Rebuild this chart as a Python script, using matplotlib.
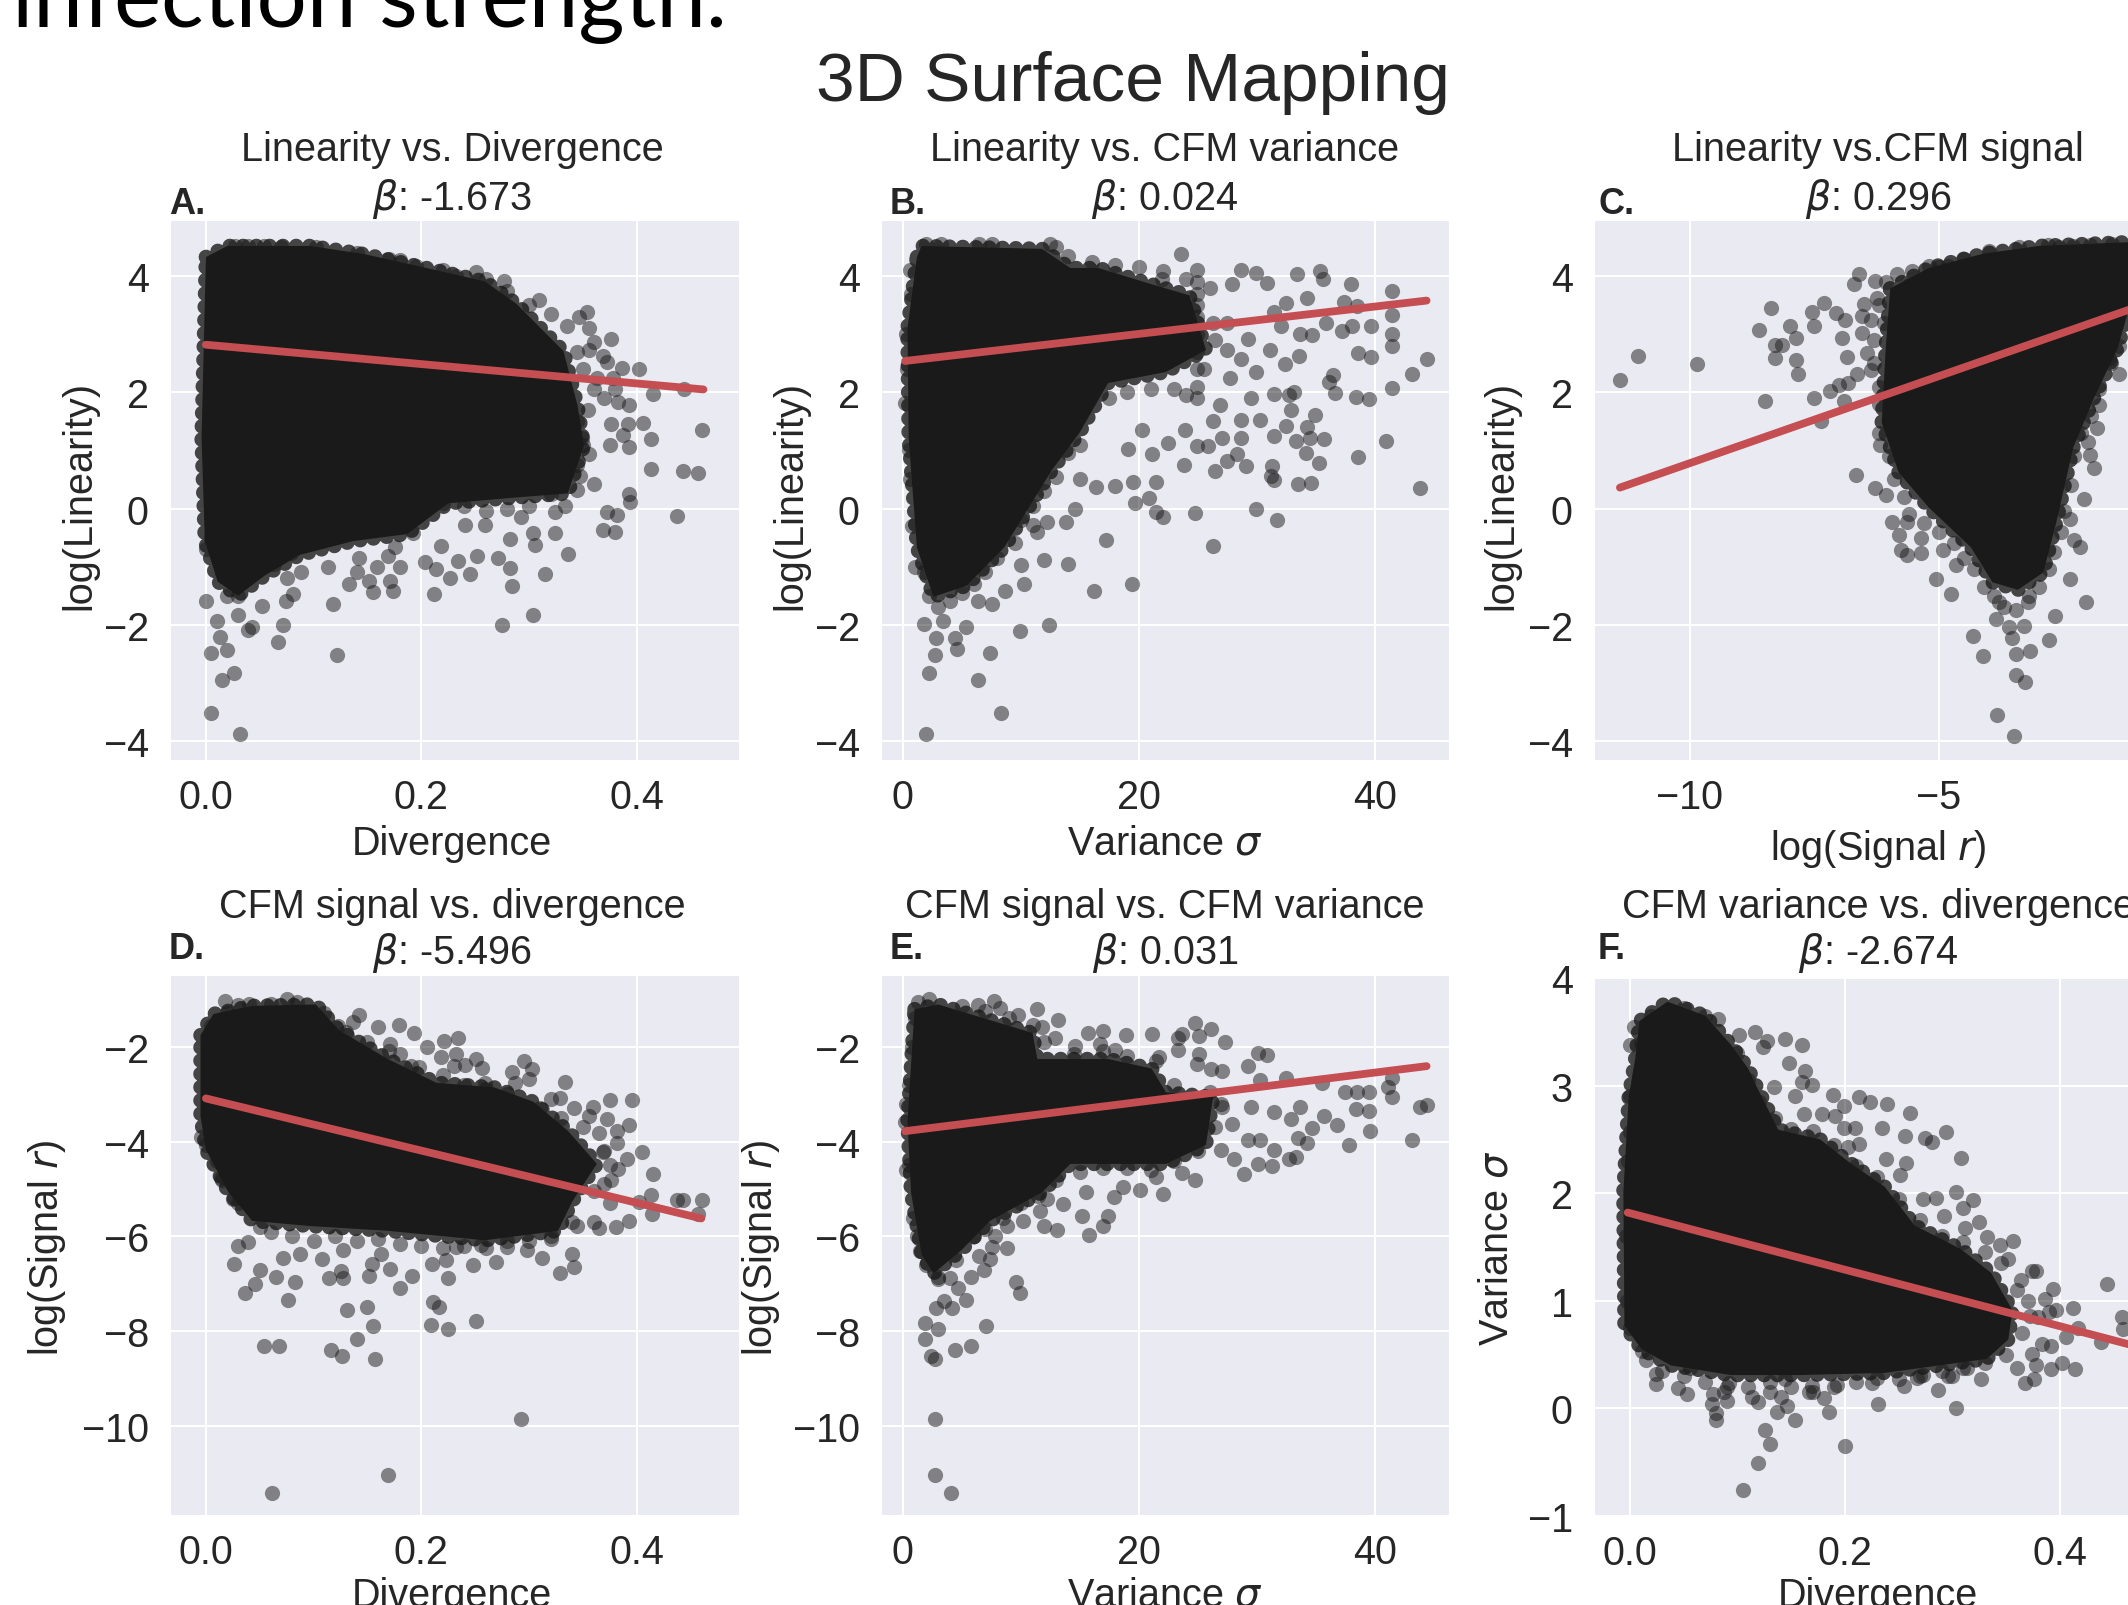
import matplotlib
matplotlib.use('Agg')
import matplotlib.pyplot as plt

plt.rcParams['font.family'] = ['Liberation Sans', 'DejaVu Sans']
plt.rcParams['mathtext.fontset'] = 'custom'
plt.rcParams['mathtext.rm'] = 'Liberation Sans'
plt.rcParams['mathtext.it'] = 'DejaVu Sans:italic'

W, H = 2128, 1606

# A. linearity vs divergence
a_x = [0, .005, .015, .026, .005, .032, .013, .02, .01, .03, .039, .043, .067, .072, .074, .081, .118, .122, .052, .075,
       .088, .063, .079, .113, .133, .14, .142, .151, .155, .159, .171, .174, .169, .18, .176, .203, .212, .214, .227, .234,
       .218, .245, .252, .271, .282, .284, .275, .304, .315, .336, .324, .306, .282, .333, .324, .304, .293, .259, .241, .192,
       .372, .369, .38, .382, .437, .394, .393, .443, .457, .413, .461, .413, .393, .375, .406, .393, .415, .444, .402, .386,
       .376, .372, .354, .346, .356, .36, .356, .369, .378, .363, .383, .392, .376, .387, .36, .345, .349, .356, .347, .309,
       .277, .251, .232, .195, .18, .102, .054, .039, .027]
a_y = [-1.59, -2.49, -2.96, -2.83, -3.52, -3.89, -2.21, -2.43, -1.94, -1.83, -2.10, -2.04, -2.29, -2.01, -1.59, -1.47, -1.64, -2.53, -1.67, -1.19,
       -1.09, -.95, -.76, -1.0, -1.30, -1.09, -.86, -1.24, -1.43, -1.0, -1.24, -1.42, -.81, -1.0, -.67, -.92, -1.47, -1.05, -1.19, -.91,
       -.64, -1.12, -.81, -.86, -1.02, -1.33, -2.01, -1.84, -1.12, -.78, -.43, -.62, -.53, .04, -.06, -.43, -.15, -.29, -.29, -.43,
       -.06, -.37, -.41, -.12, -.13, .11, .25, .65, .61, .68, 1.36, 1.20, 1.06, 1.10, 1.47, 1.78, 1.97, 2.06, 2.40, 2.42,
       2.91, 2.52, 3.39, 3.29, 3.10, 2.87, 2.73, 2.63, 2.25, 2.25, 1.83, 1.45, 1.45, 1.26, .42, .32, 1.22, .93, .56, 3.59,
       3.91, 4.08, 4.0, 4.17, 4.27, 4.5, 4.52, 4.52, 4.52]
a_edge_x = [.04, .03, .02, .05, .06, .07, .08, .09, .10, .12, .14, .16, .18, .20, .22, .24, .26, .28, .30, .32, .345, .35,
            .345, .355, .36, .35, .345, .335, .32, .30, .28, .26, .22, .17, .14, .07, .005, .005, 0, .01, .015, .03, .38, .37]
a_edge_y = [-1.1, -1.3, -1.5, -.9, -.75, -.6, -.5, -.55, -.45, -.35, -.35, -.3, -.15, 0, .1, .05, -.05, 0, .05, .25, .75, 1.1,
            1.5, 1.7, 2.05, 2.4, 2.7, 3.15, 3.35, 3.5, 3.75, 3.95, 4.1, 4.3, 4.4, 4.5, 0, -.5, -.7, -.8, -1.1, -1.5, 2.05, 1.9]
a_core_x = [0, .02, .097, .147, .205, .259, .288, .332, .345, .351, .336, .288, .225, .187, .137, .087, .055, .03, .011, -.001, -.004]
a_core_y = [4.33, 4.52, 4.52, 4.38, 4.14, 3.91, 3.53, 2.71, 1.78, 1.08, .26, .19, .09, -.44, -.56, -.8, -1.15, -1.5, -1.26, -.56, 1.22]
a_fit_x = [0, .462]
a_fit_y = [2.82, 2.05]

# B. linearity vs variance
b_x = [2, 8.3, 6.4, 7.4, 2.2, 2.7, 2.85, 4.6, 4.4, 5.4, 3.4, 1.8, 9.95, 12.4, 6.4, 7.6, 8.7, 10.3, 10, 12,
       14, 16.2, 19.4, 17.2, 26.3, 24.8, 29.9, 31.7, 43.8, 33.5, 34.6, 31.5, 31.2, 31.3, 29.1, 27.5, 26.5, 23.8, 21.5, 22.1,
       21.5, 20.9, 19.7, 19.5, 18, 16.4, 15, 14.6, 13.8, 12.2, 11.4, 11, 38.6, 41, 35.3, 34.2, 35.7, 34.5, 33.3, 34.3,
       34.9, 32.9, 32.5, 31.5, 30.3, 28.7, 28.7, 27.1, 28.3, 25.9, 24.9, 23.9, 22.5, 21.1, 20.3, 19.1, 26.3, 32.7, 33.2, 31.5,
       29.5, 26.9, 36.1, 36.6, 38.4, 39.5, 41.5, 43.2, 44.4, 39.7, 38.6, 36.5, 33.6, 32.4, 31.1, 29.9, 28.7, 27.7, 27.5, 41.5,
       41.5, 41.5, 41.5, 38, 35.6, 35.4, 33.4, 29.9, 28.7, 30.9, 27.9, 23.6, 22.1, 32.5, 34.3, 37.4, 38.5, 39.7, 35.9, 37.2,
       38.1, 33.7, 34.7, 31.5, 32.1, 29.3, 26.3, .2, 24.9, 24.9, 24.9, 24.9, 24.9, 24.9, 24.9, 24.9, 24.9, 24.9]
b_y = [-3.89, -3.52, -2.96, -2.49, -2.84, -2.53, -2.23, -2.42, -2.23, -2.04, -1.94, -1.99, -2.11, -2.01, -1.59, -1.64, -1.42, -1.3, -.98, -.89,
       -.95, -1.42, -1.3, -.55, -.64, -.07, 0, -.2, .35, .42, .44, .49, .56, .73, .73, .82, .65, .75, .46, -.15,
       -.06, .18, .1, .46, .39, .37, .51, -.01, -.23, -.23, -.41, -.29, .89, 1.17, .79, .95, 1.2, 1.22, 1.17, 1.41,
       1.61, 1.69, 1.42, 1.24, 1.52, 1.52, 1.22, 1.22, .93, 1.08, 1.08, 1.36, 1.12, .93, 1.36, 1.03, 1.5, 1.95, 2.01, 1.97,
       1.9, 1.78, 2.18, 1.99, 1.92, 1.88, 2.08, 2.32, 2.57, 2.6, 2.67, 2.29, 2.63, 2.49, 2.73, 2.35, 2.58, 2.25, 2.73, 2.8,
       3.01, 3.34, 3.74, 3.86, 3.95, 4.09, 4.03, 4.05, 4.1, 3.89, 3.86, 4.38, 4.09, 3.53, 3.62, 3.56, 3.48, 3.15, 3.2, 3.06,
       3.15, 3.01, 2.99, 3.39, 3.15, 2.92, 3.2, 1.81, 4.1, 3.9, 3.7, 3.5, 3.3, 3.0, 2.7, 2.4, 2.1, 1.9]
b_edge_x = [16, 17.5, 19, 21, 23, 24, 25.5, 26.5, 27.5, 26, 24, 22, 20, 18, 16, 14, 13, 12.5, 15, 14, 13, 12, 11, 10, 9.5, 8, 7, 6, 5, 4,
            3, 2.2, 1.8, 1, .8, .6, .5, .4, .6, .7, .3, 2, 3.2, 6.5, 7.6]
b_edge_y = [2, 1.9, 2, 2.05, 2.05, 1.95, 2.4, 2.9, 3.2, 3.8, 3.95, 3.95, 4.15, 4.2, 4.25, 4.35, 4.5, 4.55, 1.1, .95, .55, .3, .05, -.2, -.6, -.85, -1.1, -1.3, -1.45, -1.6,
            -1.7, -1.5, -1.1, -1, -.3, .5, 1, 2.4, 4.1, 3.7, 3, 4.55, 4.55, 4.55, 4.55]
b_core_x = [1.2, 1.6, 11.8, 14.2, 16.6, 21.1, 24.3, 25.7, 22.3, 17.4, 15, 12.6, 10.6, 8.6, 5.4, 2.6, 1.2, .5, .4]
b_core_y = [4.33, 4.52, 4.47, 4.14, 4.14, 3.86, 3.67, 2.73, 2.35, 2.16, 1.31, .65, -.01, -.67, -1.33, -1.52, -.67, 1.22, 3.1]
b_fit_x = [.2, 44.4]
b_fit_y = [2.54, 3.58]

# C. linearity vs signal
c_x = [-11.4, -11.04, -9.85, -8.61, -8.37, -8.3, -8.16, -8.3, -7.98, -7.86, -7.86, -7.82, -8.5, -7.54, -7.5, -7.3, -7.07, -6.88, -6.95, -6.85,
       -7.5, -7.19, -7.0, -6.82, -6.64, -6.9, -6.71, -6.6, -6.28, -6.07, -5.84, -5.55, -6.51, -6.24, -6.55, -6.54, -6.37, -6.45, -6.37, -7.36,
       -6.66, -6.28, -6.19, -6.07, -5.94, -5.81, -5.77, -5.64, -5.36, -5.36, -5.64, -4.93, -4.66, -5.07, -4.76, -4.32, -4.12, -3.83, -3.49, -3.45,
       -3.28, -3.45, -3.17, -3.53, -2.8, -2.68, -2.06, -2.37, -3.85, -3.29, -3.59, -3.21, -3.8, -2.17, -2.3, -2.37, -2.09, -1.89, -1.97, -2.01,
       -1.84, -1.8, -1.4, -1.59, -2.82, -2.31, -1.97, -1.54, -5.21, -4.83]
c_y = [2.21, 2.63, 2.49, 3.07, 3.45, 2.81, 2.81, 2.59, 3.14, 2.94, 2.56, 2.32, 1.85, 3.38, 3.14, 3.53, 3.36, 3.24, 2.94, 2.61,
       1.91, 2.02, 2.12, 2.16, 2.32, 1.85, 3.86, 4.03, 3.92, 3.9, 4.03, 4.09, 3.52, 3.62, 3.32, 3.02, 3.24, 2.68, 2.38, 1.5,
       .58, .36, 1.09, .23, -.24, -.45, -.71, -.8, -.76, -.5, -.24, -.71, -.97, -1.21, -1.48, -2.2, -2.54, -3.55, -3.91, -2.86,
       -2.99, -2.51, -2.45, -2.23, -2.26, -1.85, -1.61, -1.21, -1.91, -2.03, -2.04, -1.61, -1.61, -.67, -.54, -.18, .17, .7, .92, 1.15,
       1.39, 1.78, 2.32, 2.59, 4.54, 4.52, 4.54, 4.55, 4.18, 4.18]
c_edge_x = [-6.2, -6.1, -6.3, -6.3, -6.2, -6.2, -6.2, -6, -5.9, -5.7, -5.6, -5.3, -5, -4.7, -4.5, -4.3, -4.1, -3.9, -3.7, -3.45, -3.2, -3,
            -2.8, -2.7, -2.55, -2.5, -2.35, -2.3, -2.15, -1.95, -1.8, -1.55, -1.4, -5.6, -5, -4.5, -4, -3.4, -2.6]
c_edge_y = [3.5, 3.2, 2.9, 2.5, 2.1, 1.8, 1.3, .9, .5, .2, -.1, -.25, -.4, -.6, -.85, -1.05, -1.35, -1.5, -1.7, -1.75, -1.5, -1.35,
            -1.05, -.75, -.4, -.05, .4, .9, 1.3, 1.6, 2.05, 2.5, 2.8, 3.85, 4.15, 4.3, 4.43, 4.5, 4.5]
c_core_x = [-5.98, -5.21, -4.10, -3, -.52, -.6, -1.22, -1.42, -1.89, -2.31, -2.65, -2.91, -3.42, -3.93, -4.36, -5.21, -5.81, -6.15, -6.07]
c_core_y = [3.79, 4.14, 4.39, 4.52, 4.61, 3.5, 3.36, 2.76, 1.91, 1.05, -.24, -1.1, -1.4, -1.27, -.67, .02, .62, 1.48, 2.76]
c_fit_x = [-11.4, -.8]
c_fit_y = [.36, 3.54]

# D. signal vs divergence
d_x = [.018, .03, .005, .142, .137, .123, .16, .179, .193, .171, .205, .221, .234, .218, .232, .241, .251, .256, .23, .198,
       .18, .259, .284, .287, .295, .303, .3, .333, .32, .329, .342, .359, .375, .396, .356, .372, .365, .382, .393, .382,
       .369, .405, .391, .383, .415, .376, .413, .437, .443, .461, .457, .414, .402, .393, .381, .365, .345, .32, .34, .342,
       .329, .312, .298, .28, .269, .248, .223, .232, .255, .21, .191, .18, .171, .151, .154, .163, .127, .114, .125, .127,
       .108, .087, .072, .083, .065, .05, .046, .036, .026, .03, .039, .076, .131, .15, .155, .211, .216, .209, .225, .251,
       .225, .14, .116, .126, .157, .054, .068, .293, .169, .061, .014, 0]
d_y = [-1.04, -1.12, -1.56, -1.33, -1.48, -1.56, -1.58, -1.54, -1.72, -1.94, -2, -1.87, -1.81, -2.21, -2.16, -2.38, -2.26, -2.44, -2.41, -2.43,
       -2.16, -2.76, -2.54, -2.76, -2.3, -2.46, -2.68, -2.75, -3.11, -3.09, -3.3, -3.27, -3.13, -3.13, -3.47, -3.52, -3.82, -3.77, -3.65, -4.02,
       -4.22, -4.22, -4.37, -4.57, -4.69, -4.82, -5.12, -5.23, -5.23, -5.23, -5.52, -5.52, -5.27, -5.67, -5.8, -5.83, -5.78, -6.05, -6.36, -6.65,
       -6.78, -6.45, -6.28, -6.23, -6.54, -6.6, -6.5, -6.23, -6.18, -6.58, -6.83, -7.08, -6.68, -6.83, -6.58, -6.36, -6.88, -6.88, -6.73, -6.28,
       -6.48, -6.36, -6.45, -6.95, -6.86, -6.7, -7, -7.2, -6.58, -6.2, -6.11, -7.33, -7.54, -7.49, -7.88, -7.38, -7.48, -7.86, -7.96, -7.79,
       -6.88, -8.17, -8.39, -8.51, -8.59, -8.3, -8.3, -9.85, -11.02, -11.4, -4.77, -4.07]
d_edge_x = [.03, .05, .06, .08, .1, .12, .14, .16, .18, .2, .22, .24, .26, .28, .3, .32, .34, .36, .375, .36, .37, .375, .37, .35, .33, .31,
            .28, .26, .24, .22, .19, .17, .15, .13, .11, .085, .075, .06, .04, .02, .01, .01, .015, .025, -.005]
d_edge_y = [-5.3, -5.8, -5.9, -6, -6.1, -6, -6.1, -6.05, -6.15, -6.2, -6.25, -6.2, -6.25, -6.1, -6.1, -6, -5.7, -5.7, -5.3, -5.05, -4.9, -4.5, -4.2, -3.7, -3.5, -3.3,
            -3, -2.9, -2.8, -2.6, -2.4, -2.1, -1.9, -1.7, -1.3, -1.05, -1, -1.1, -1.1, -1.3, -1.5, -4.4, -4.8, -5.2, -3.9]
d_core_x = [-.005, .007, .043, .102, .124, .169, .214, .268, .304, .336, .363, .34, .327, .259, .169, .097, .043, .021, 0, -.005]
d_core_y = [-1.76, -1.31, -1.14, -1.11, -1.66, -2.26, -2.76, -2.86, -3.16, -3.77, -4.47, -5.27, -5.88, -6.08, -5.88, -5.78, -5.67, -5.07, -4.17, -3.47]
d_fit_x = [0, .46]
d_fit_y = [-3.09, -5.62]

# E. signal vs variance
e_x = [4.05, 2.7, 2.7, 2.7, 2.4, 4.4, 5.8, 1.85, 3, 1.9, 7.05, 2.8, 3.5, 4.2, 5.4, 9.95, 9.6, 4.7, 5.8, 6.9,
       7.4, 6.5, 3, 4, 8.8, 7.6, 7.8, 8.8, 10.2, 12, 13.1, 11.6, 13.6, 12.2, 15.2, 15.8, 17, 17.4, 15.5, 17.9,
       18.7, 20.1, 22.1, 21.5, 23.7, 24.8, 27, 28.1, 28.9, 30.1, 31.3, 31.5, 32.7, 33.3, 33.5, 34.3, 37.8, 39.6, 43.2, 43.8,
       44.4, 41.5, 41.5, 41.1, 39.5, 39.5, 38.4, 38.5, 37.5, 36.8, 35.7, 34.7, 32.9, 31.5, 30.3, 29.3, 27.9, 27.1, 29.5, 35.5,
       33.7, 32.5, 30.3, 29.3, 30.9, 30.1, 27.3, 27.1, 26.1, 25.1, 24.8, 23.7, 23.3, 21.7, 23.3, 25.1, 24.9, 26.1, 21.1, 18.9,
       17, 15.7, 16.7, 18, 14.6, 12.9, 13.2, 11.8, 11.4, 9.8, 8.2, 7.7, 6.4, .2, .3, 1.3]
e_y = [-11.4, -11.02, -9.85, -8.59, -8.51, -8.39, -8.3, -8.17, -7.96, -7.83, -7.88, -7.5, -7.36, -7.51, -7.33, -7.2, -6.95, -7.08, -6.86, -6.7,
       -6.48, -6.41, -6.86, -6.88, -6.25, -6.23, -5.98, -5.78, -5.67, -5.78, -5.86, -5.47, -5.32, -5.22, -5.57, -5.96, -5.78, -5.57, -5.07, -5.17,
       -4.95, -5.02, -5.1, -4.75, -4.67, -4.82, -4.17, -4.37, -4.69, -4.47, -4.52, -4.17, -4.37, -4.32, -3.92, -4.02, -4.07, -3.77, -3.97, -3.27,
       -3.22, -3.06, -2.66, -2.84, -2.96, -3.35, -3.32, -2.96, -2.96, -3.65, -3.47, -3.72, -3.52, -3.37, -3.97, -3.97, -3.62, -3.27, -3.27, -2.76,
       -3.27, -2.66, -2.71, -2.41, -2.17, -2.13, -1.91, -2.51, -1.63, -1.78, -1.51, -1.73, -1.81, -2.21, -2.06, -2.16, -2.36, -2.46, -1.73, -1.76,
       -1.66, -1.72, -1.94, -2.06, -1.98, -1.81, -1.44, -1.58, -1.21, -1.33, -1.18, -1.04, -1.12, -3.59, -4.59, -1.06]
e_edge_x = [3, 2, 1.5, 4.5, 6, 7, 8.5, 10, 11.5, 13, 15, 17, 19, 21, 23, 25, 26.5, 27, 26, 23, 21.5, 19, 17, 14.5, 12, 11, 9, 7, 5, 2.2,
            1, .8, .5, .3, .5, .9, 1.2]
e_edge_y = [-6.9, -6.6, -6.3, -6.5, -6, -5.85, -5.6, -5.3, -5.15, -4.8, -4.65, -4.55, -4.55, -4.6, -4.4, -4.2, -3.7, -3.2, -2.95, -2.8, -2.3, -2.2, -2.1, -2.15, -1.9, -1.55, -1.4, -1.25, -1.15, -1,
            -1.4, -2, -2.8, -3.2, -4.5, -5.6, -6]
e_core_x = [1, 3, 11, 11.4, 17.4, 21.1, 22.3, 26.3, 25.7, 22.3, 14.2, 11.8, 7.4, 5, 2.6, 1.6, .7, .4]
e_core_y = [-1.21, -1.11, -1.71, -2.26, -2.26, -2.46, -2.96, -3.06, -4.07, -4.47, -4.47, -5.07, -5.67, -6.28, -6.78, -6.38, -5.07, -3.57]
e_fit_x = [.2, 44.4]
e_fit_y = [-3.78, -2.41]

# F. variance vs divergence
f_x = [.105, .119, .13, .126, .2, .154, .185, .231, .303, .08, .08, .076, .09, .077, .088, .053, .045, .024, .024, .056,
       .114, .119, .137, .146, .141, .13, .181, .169, .167, .193, .144, .092, .225, .255, .267, .287, .296, .3, .327, .314,
       .273, .36, .368, .376, .378, .392, .402, .414, .374, .392, .383, .406, .417, .412, .394, .386, .396, .374, .378, .364,
       .444, .458, .459, .438, .372, .356, .352, .344, .332, .325, .31, .319, .303, .285, .292, .273, .312, .308, .257, .238,
       .294, .275, .281, .256, .235, .261, .239, .223, .213, .189, .199, .191, .209, .199, .213, .203, .179, .162, .169, .16,
       .163, .148, .16, .144, .128, .116, .102, .134, .154, .124, .082, .251, 0, .011, .004, 0, 0, 0]
f_y = [-.76, -.51, -.33, -.2, -.35, -.11, -.03, .04, 0, -.11, -.04, .04, .07, .13, .15, .13, .19, .23, .32, .38,
       .11, .06, -.03, .02, .11, .15, .1, .21, .15, .22, .27, .24, .24, .21, .28, .17, .3, .3, .27, .38,
       .31, .38, .24, .27, .4, .37, .42, .37, .51, .58, .6, .66, .75, .93, 1.11, 1.02, .91, 1.28, 1.28, 1.19,
       1.16, .85, .74, .62, .86, 1.56, 1.39, 1.52, 1.59, 1.73, 1.86, 1.94, 2.01, 1.96, 1.79, 1.95, 1.68, 2.33, 2.28, 2.32,
       2.57, 2.51, 2.48, 2.53, 2.61, 2.75, 2.83, 2.85, 2.89, 2.91, 2.81, 2.72, 2.61, 2.61, 2.46, 2.43, 2.74, 2.74, 3.01, 3.03,
       3.14, 3.21, 3.38, 3.43, 3.41, 3.5, 3.47, 2.99, 2.9, 3.36, 3.62, 2.17, .75, .53, 3.54, 3.38, 2.9, 2.57]
f_edge_x = [.015, .03, .05, .07, .09, .11, .13, .15, .17, .19, .21, .23, .25, .27, .29, .31, .33, .35, .365, .38, .39, .37, .36, .345, .33, .31,
            .29, .27, .25, .23, .21, .19, .17, .15, .135, .12, .11, .1, .07, .05, .02, .01, -.002, -.004, -.003]
f_edge_y = [.45, .35, .3, .25, .2, .2, .25, .2, .15, .2, .25, .28, .27, .3, .35, .38, .42, .5, .7, .85, .9, 1, 1.1, 1.35, 1.45, 1.55,
            1.6, 1.75, 1.95, 2.15, 2.25, 2.45, 2.58, 2.6, 2.7, 2.85, 3.05, 3.3, 3.65, 3.72, 3.65, 3.4, 2.3, 1.6, 1]
f_core_x = [.005, .009, .035, .07, .094, .11, .118, .138, .177, .205, .237, .265, .308, .336, .356, .352, .332, .237, .158, .094, .038, .011, -.005, -.006, -.001]
f_core_y = [3.25, 3.6, 3.78, 3.65, 3.38, 3.16, 2.99, 2.59, 2.5, 2.28, 2.06, 1.7, 1.48, 1.26, .91, .64, .46, .33, .31, .31, .4, .55, .77, 2.01, 2.9]
f_fit_x = [-.002, .4636]
f_fit_y = [1.82, .597]

dark = '#1a1a1a'
red = '#C44E52'
txt = '#262626'
fs = 28.5


def px(x, y):
    return x / W, 1 - y / H


def panel(box, xs, ys, edge_x, edge_y, core_x, core_y, fit_x, fit_y, xlim, ylim, xticks, yticks):
    # box is left, top, right, bottom in pixels
    l, t, r, b = box
    ax = fig.add_axes([l / W, 1 - b / H, (r - l) / W, (b - t) / H], facecolor='#EAEAF2')
    ax.grid(True, color='white', lw=1.5)
    ax.set_axisbelow(True)
    for s in ax.spines.values():
        s.set_visible(False)
    ax.fill(core_x, core_y, color=dark, lw=0, zorder=2)
    # round dots along the outline of the solid part, so its rim is bumpy like overlapping points
    ax.plot(core_x + core_x[:1], core_y + core_y[:1], color=dark, lw=10.5, alpha=.8, ls=(0, (.01, .9)),
            dash_capstyle='round', zorder=2)
    ax.scatter(edge_x, edge_y, s=120, color=dark, alpha=.5, lw=0, zorder=2)
    ax.scatter(xs, ys, s=120, color=dark, alpha=.5, lw=0, zorder=2)
    ax.plot(fit_x, fit_y, color=red, lw=5.6, zorder=3, solid_capstyle='round')
    ax.set_xlim(xlim)
    ax.set_ylim(ylim)
    ax.set_xticks(xticks)
    ax.set_yticks(yticks)
    ax.tick_params(length=0, labelsize=fs, labelcolor=txt)
    ax.tick_params(axis='x', pad=13)
    ax.tick_params(axis='y', pad=16)
    return ax


def labels(ax, title, beta, letter, cx, ty, by, lx, ly, xlab_y, ylab_x, ylab_y, xlab, ylab):
    fig.text(*px(cx, ty), title, ha='center', va='center', fontsize=fs, color=txt)
    fig.text(*px(cx, by), r'$\beta$: ' + beta, ha='center', va='center', fontsize=fs, color=txt)
    fig.text(*px(lx, ly), letter, ha='left', va='center', fontsize=26, fontweight='bold', color=txt)
    ax.set_xlabel(xlab, fontsize=fs, color=txt, va='center')
    ax.set_ylabel(ylab, fontsize=fs, color=txt, va='center')
    ax.xaxis.set_label_coords(*px(cx, xlab_y), transform=fig.transFigure)
    ax.yaxis.set_label_coords(*px(ylab_x, ylab_y), transform=fig.transFigure)


fig = plt.figure(figsize=(W / 100, H / 100), dpi=100, facecolor='white')

div_ticks = [0, .2, .4]
var_ticks = [0, 20, 40]
lin_ticks = [-4, -2, 0, 2, 4]
sig_ticks = [-10, -8, -6, -4, -2]

top_lim = (-4.33, 4.95)
sig_lim = (-11.87, -.51)
div_lim = (-.0324, .495)
var_lim = (-1.76, 46.3)

ax_a = panel((171, 222, 739, 761), a_x, a_y, a_edge_x, a_edge_y, a_core_x, a_core_y, a_fit_x, a_fit_y, div_lim, top_lim, div_ticks, lin_ticks)
ax_b = panel((882, 222, 1449, 761), b_x, b_y, b_edge_x, b_edge_y, b_core_x, b_core_y, b_fit_x, b_fit_y, var_lim, top_lim, var_ticks, lin_ticks)
ax_c = panel((1595, 222, 2162, 761), c_x, c_y, c_edge_x, c_edge_y, c_core_x, c_core_y, c_fit_x, c_fit_y, (-11.9, -.53), top_lim, [-10, -5], lin_ticks)
ax_d = panel((171, 977, 739, 1516), d_x, d_y, d_edge_x, d_edge_y, d_core_x, d_core_y, d_fit_x, d_fit_y, div_lim, sig_lim, div_ticks, sig_ticks)
ax_e = panel((882, 977, 1449, 1516), e_x, e_y, e_edge_x, e_edge_y, e_core_x, e_core_y, e_fit_x, e_fit_y, var_lim, sig_lim, var_ticks, sig_ticks)
ax_f = panel((1595, 979, 2162, 1517), f_x, f_y, f_edge_x, f_edge_y, f_core_x, f_core_y, f_fit_x, f_fit_y, div_lim, (-1, 4), div_ticks, [-1, 0, 1, 2, 3, 4])

labels(ax_a, 'Linearity vs. Divergence', '-1.673', 'A.', 452, 150, 199, 169, 205, 844, 79, 495, 'Divergence', 'log(Linearity)')
labels(ax_b, 'Linearity vs. CFM variance', '0.024', 'B.', 1165, 150, 199, 890, 205, 844, 790, 495, r'Variance $\sigma$', 'log(Linearity)')
labels(ax_c, 'Linearity vs.CFM signal', '0.296', 'C.', 1878, 150, 199, 1598, 205, 849, 1501, 495, r'log(Signal $r$)', 'log(Linearity)')
labels(ax_d, 'CFM signal vs. divergence', '-5.496', 'D.', 452, 907, 953, 169, 950, 1596, 47, 1248, 'Divergence', r'log(Signal $r$)')
labels(ax_e, 'CFM signal vs. CFM variance', '0.031', 'E.', 1165, 907, 953, 890, 950, 1596, 761, 1248, r'Variance $\sigma$', r'log(Signal $r$)')
labels(ax_f, 'CFM variance vs. divergence', '-2.674', 'F.', 1878, 907, 953, 1598, 950, 1596, 1497, 1248, 'Divergence', r'Variance $\sigma$')

fig.text(*px(1133, 83), '3D Surface Mapping', ha='center', va='center', fontsize=50, color=txt)
fig.text(*px(12, 27), 'infection strength.', ha='left', va='baseline', fontsize=64, color='black', family='Lato')

plt.savefig('out.png', dpi=100)
